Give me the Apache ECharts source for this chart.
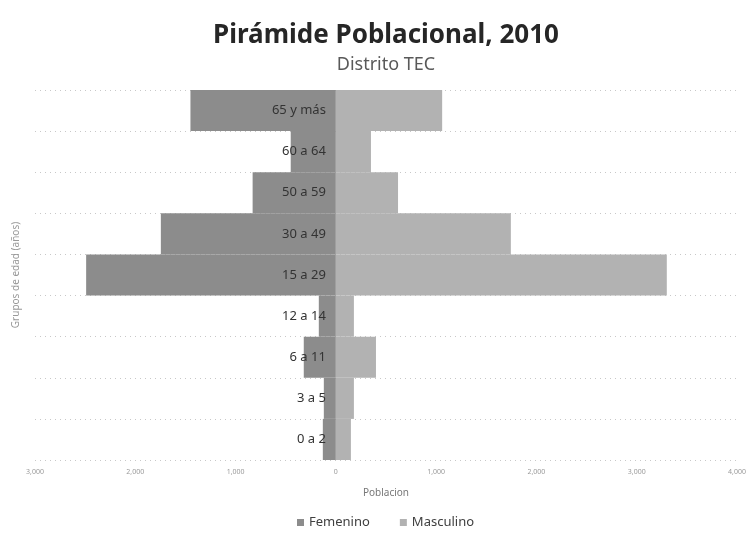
<!DOCTYPE html>
<html>
<head>
<meta charset="utf-8">
<script src="https://cdn.jsdelivr.net/npm/echarts@6/dist/echarts.min.js"></script>
<style>
  html, body { margin: 0; padding: 0; background: #fff; }
  #chart { width: 749px; height: 544px; }
</style>
</head>
<body>
<div id="chart"></div>
<script>
// grupos de edad, de abajo hacia arriba
const categories = ['0 a 2', '3 a 5', '6 a 11', '12 a 14', '15 a 29', '30 a 49', '50 a 59', '60 a 64', '65 y más']
const femenino = [130, 120, 320, 170, 2490, 1745, 830, 450, 1450]
const masculino = [150, 180, 400, 180, 3300, 1745, 620, 350, 1060]
const xMin = -3000
const xMax = 4000
const xStep = 1000

const fmt = v => Math.abs(v).toLocaleString('en-US')

const W = 749
const gridLeft = 35
const gridRight = 12
// posición del cero en píxeles, para llevar las etiquetas del eje Y al centro
const zeroOffset = (0 - xMin) / (xMax - xMin) * (W - gridLeft - gridRight)

// ancho de un texto, para centrar los títulos sobre el área de trazado
const ctx = document.createElement('canvas').getContext('2d')
function textWidth(txt, font) {
  ctx.font = font
  return ctx.measureText(txt).width
}

const centerX = 386
const titleText = 'Pirámide Poblacional, 2010'
const subText = 'Distrito TEC'
const titleW = textWidth(titleText, 'bold 26px "Noto Sans"')
const subW = textWidth(subText, '18px "Noto Sans"')

const chart = echarts.init(document.getElementById('chart'))

const option = {
  animation: false,
  backgroundColor: '#fff',
  color: ['#8c8c8c', '#b2b2b2'],
  title: [
    {
      text: titleText,
      left: centerX - titleW / 2 - 5,
      top: 18,
      textStyle: { fontFamily: 'Noto Sans', fontSize: 26, fontWeight: 'bold', color: '#262626' }
    },
    {
      text: subText,
      left: centerX - subW / 2 - 5,
      top: 51,
      textStyle: { fontFamily: 'Noto Sans', fontSize: 18, fontWeight: 'normal', color: '#595959' }
    }
  ],
  legend: {
    bottom: 10,
    left: 292,
    icon: 'rect',
    itemWidth: 7,
    itemHeight: 7,
    itemGap: 30,
    textStyle: { fontFamily: 'Noto Sans', fontSize: 13, color: '#404040' },
    data: ['Femenino', 'Masculino']
  },
  grid: { left: gridLeft, right: gridRight, top: 90, bottom: 84, containLabel: false, outerBoundsMode: 'none' },
  xAxis: {
    type: 'value',
    min: xMin,
    max: xMax,
    interval: xStep,
    name: 'Poblacion',
    nameLocation: 'middle',
    nameGap: 28,
    nameTextStyle: { fontFamily: 'Noto Sans', fontSize: 10, color: '#777' },
    axisLine: { show: false },
    axisTick: { show: false },
    splitLine: { show: false },
    axisLabel: {
      formatter: fmt,
      fontFamily: 'Noto Sans',
      fontSize: 7,
      color: '#999',
      margin: 8
    }
  },
  yAxis: [
    {
      // rejilla y nombre del eje, en el borde izquierdo
      type: 'category',
      data: categories,
      position: 'left',
      name: 'Grupos de edad (años)',
      nameLocation: 'middle',
      nameRotate: 90,
      nameGap: 14,
      nameTextStyle: { fontFamily: 'Noto Sans', fontSize: 10, color: '#999' },
      axisLine: { show: false },
      axisTick: { show: false },
      axisLabel: { show: false },
      splitLine: { show: true, lineStyle: { type: [1, 4], color: '#c8c8c8', width: 1 } }
    },
    {
      // etiquetas de los grupos, sobre el cero y por encima de las barras
      type: 'category',
      data: categories,
      position: 'left',
      offset: -zeroOffset,
      z: 10,
      axisLine: { show: false, onZero: false },
      axisTick: { show: false },
      axisLabel: { fontFamily: 'Noto Sans', fontSize: 13, color: '#333', margin: 10 },
      splitLine: { show: false }
    }
  ],
  series: [
    {
      name: 'Femenino',
      type: 'bar',
      stack: 'pob',
      barCategoryGap: 0,
      data: femenino.map(v => -v)
    },
    {
      name: 'Masculino',
      type: 'bar',
      stack: 'pob',
      barCategoryGap: 0,
      data: masculino
    }
  ]
}

chart.setOption(option)
</script>
</body>
</html>
